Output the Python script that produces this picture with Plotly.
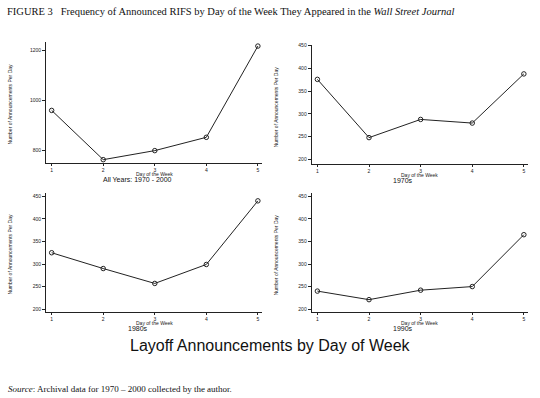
import plotly.graph_objects as go

days = [1, 2, 3, 4, 5]
all_years = [960, 764, 800, 853, 1216]
s1970s = [376, 248, 288, 280, 388]
s1980s = [325, 290, 257, 299, 440]
s1990s = [240, 221, 242, 250, 365]
panel_labels = ["All Years: 1970 - 2000", "1970s", "1980s", "1990s"]
yticks_all = [800, 1000, 1200]
yticks_dec = [200, 250, 300, 350, 400, 450]

W, H = 540, 398

def px(x):
    return x / W

def py(y):
    return 1 - y / H

fig = go.Figure()

panels = [
    (all_years, 46, 262, 40, 162, [750, 1233], yticks_all, 137),
    (s1970s, 311.7, 528, 43, 163.3, [189, 452], yticks_dec, 403),
    (s1980s, 46, 262, 191.7, 312, [192.7, 458], yticks_dec, 137.5),
    (s1990s, 311.7, 528, 191.7, 312, [192.7, 458], yticks_dec, 403),
]

layout_axes = {}
annotations = []
for i, (vals, x0, x1, yt, yb, yr, yt_vals, lab_x) in enumerate(panels):
    n = "" if i == 0 else str(i + 1)
    fig.add_trace(go.Scatter(
        x=days, y=vals, mode="lines+markers",
        line=dict(color="#222222", width=1),
        marker=dict(symbol="circle-open", size=4.5, color="#222222", line=dict(width=1)),
        xaxis="x" + n, yaxis="y" + n, showlegend=False, hoverinfo="skip",
    ))
    layout_axes["xaxis" + n] = dict(
        domain=[px(x0), px(x1)], range=[0.89, 5.08], anchor="y" + n,
        tickvals=days, ticktext=[str(d) for d in days],
        showline=True, linecolor="#222222", linewidth=1,
        ticks="outside", ticklen=2, tickwidth=1, tickcolor="#222222",
        showgrid=False, zeroline=False,
        tickfont=dict(family="Liberation Sans", size=5, color="#222222"),
    )
    layout_axes["yaxis" + n] = dict(
        domain=[py(yb), py(yt)], range=yr, anchor="x" + n,
        tickvals=yt_vals, ticktext=[str(v) for v in yt_vals],
        showline=True, linecolor="#222222", linewidth=1,
        ticks="outside", ticklen=3, tickwidth=1, tickcolor="#222222",
        showgrid=False, zeroline=False,
        tickfont=dict(family="Liberation Sans", size=5, color="#222222"),
    )
    annotations.append(dict(
        x=px((x0 + x1) / 2), y=py(yb + 10.5), xref="paper", yref="paper",
        text="Day of the Week", showarrow=False,
        font=dict(family="Liberation Sans", size=5, color="#222222"),
        xanchor="center", yanchor="middle",
    ))
    annotations.append(dict(
        x=px(lab_x), y=py(yb + 16.5), xref="paper", yref="paper",
        text=panel_labels[i], showarrow=False,
        font=dict(family="Liberation Sans", size=7, color="#111111"),
        xanchor="center", yanchor="middle",
    ))
    annotations.append(dict(
        x=px(x0 - 36), y=py((yt + yb) / 2 + 2), xref="paper", yref="paper",
        text="Number of Announcements Per Day", showarrow=False, textangle=-90,
        font=dict(family="Liberation Sans", size=5, color="#222222"),
        xanchor="center", yanchor="middle",
    ))

annotations.append(dict(
    x=px(5), y=py(10), xref="paper", yref="paper",
    text="FIGURE 3&nbsp;&nbsp;&nbsp;Frequency of Announced RIFS by Day of the Week They Appeared in the <i>Wall Street Journal</i>",
    showarrow=False, xanchor="left", yanchor="middle",
    font=dict(family="Liberation Serif", size=10.5, color="#111111"),
))
annotations.append(dict(
    x=px(270), y=py(345), xref="paper", yref="paper",
    text="Layoff Announcements by Day of Week", showarrow=False,
    xanchor="center", yanchor="middle",
    font=dict(family="Liberation Sans", size=16, color="#111111"),
))
annotations.append(dict(
    x=px(6), y=py(389), xref="paper", yref="paper",
    text="<i>Source</i>: Archival data for 1970 \u2013 2000 collected by the author.",
    showarrow=False, xanchor="left", yanchor="middle",
    font=dict(family="Liberation Serif", size=9, color="#111111"),
))

fig.update_layout(
    width=W, height=H, margin=dict(l=0, r=0, t=0, b=0),
    paper_bgcolor="white", plot_bgcolor="white",
    annotations=annotations, hovermode=False, **layout_axes,
)

fig.write_html(
    "out.html",
    config={"displayModeBar": False},
    post_script="document.body.style.margin='0';document.body.style.overflow='hidden';",
)
